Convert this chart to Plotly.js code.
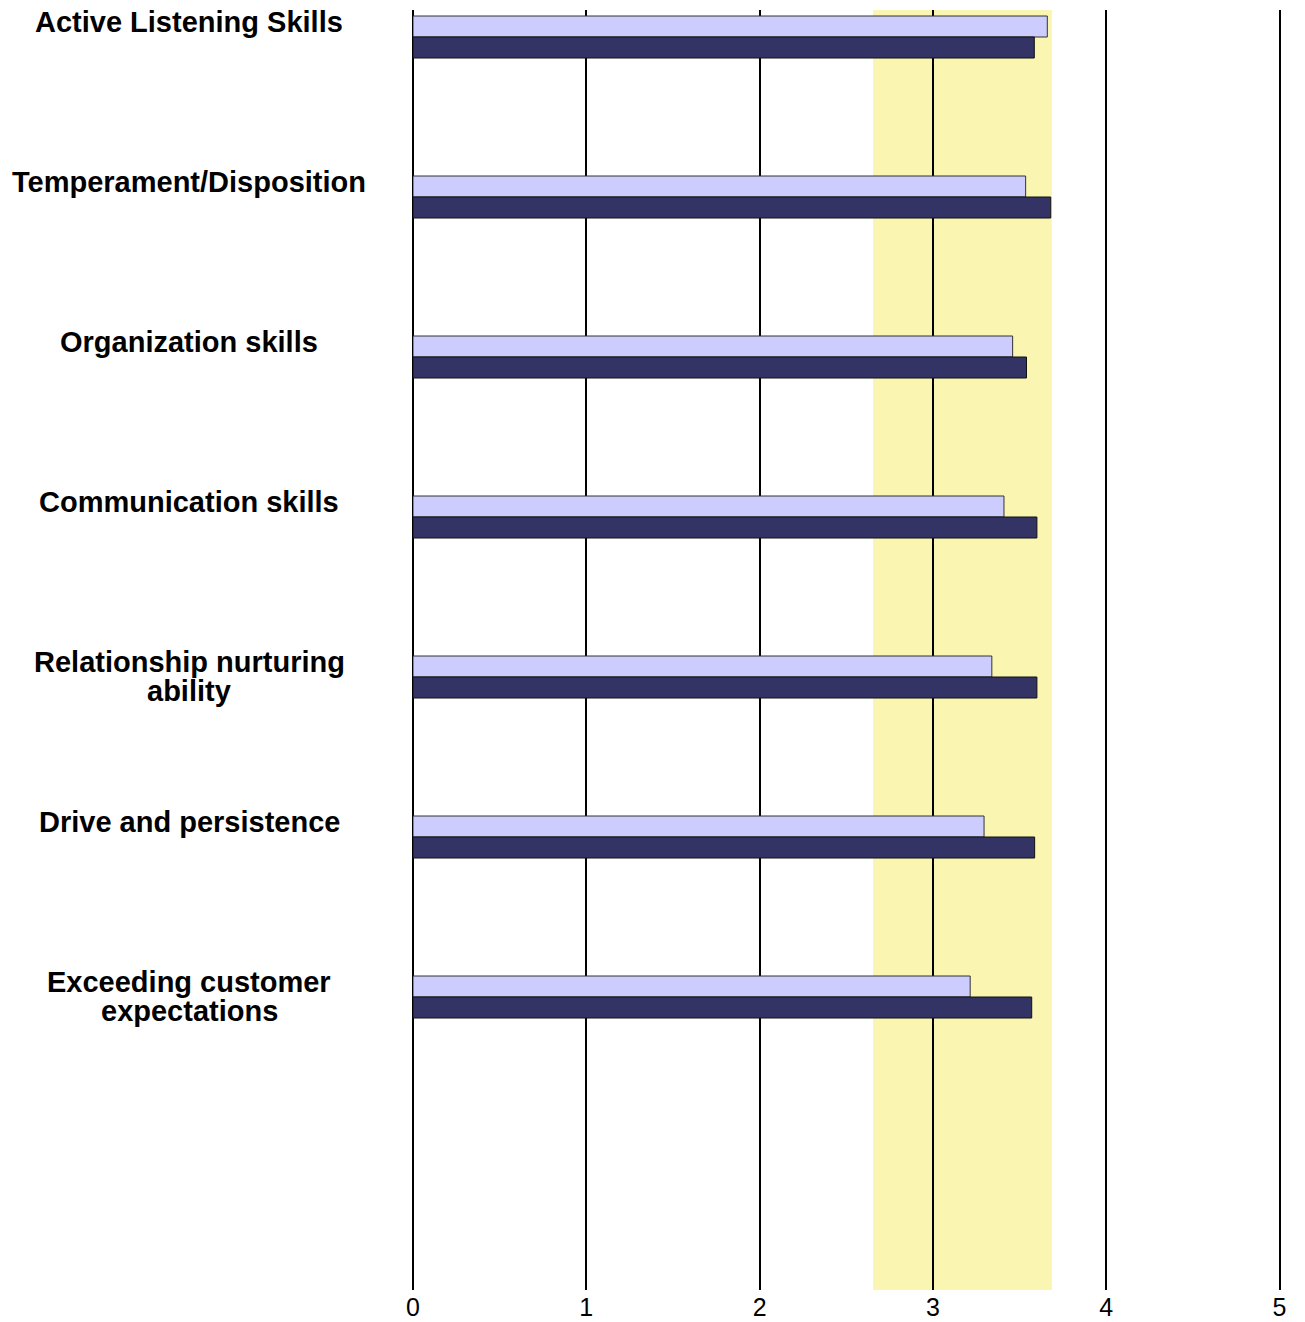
<!DOCTYPE html>
<html>
<head>
<meta charset="utf-8">
<script src="https://cdn.plot.ly/plotly-3.0.1.min.js"></script>
<style>html,body{margin:0;padding:0;background:#fff;}#chart{width:1305px;height:1322px;}</style>
</head>
<body>
<div id="chart"></div>
<script>
// Data
var categories = [
  "Active Listening Skills",
  "Temperament/Disposition",
  "Organization skills",
  "Communication skills",
  "Relationship nurturing\nability",
  "Drive and persistence",
  "Exceeding customer\nexpectations"
];
var seriesLight = [3.66, 3.535, 3.46, 3.41, 3.34, 3.295, 3.215];
var seriesDark  = [3.585, 3.68, 3.54, 3.60, 3.60, 3.587, 3.57];
var bandRange = [2.655, 3.686];
var xTicks = [0, 1, 2, 3, 4, 5];

var positions = categories.map(function (c, i) { return i; });
var barW = 21 / 160;

var traces = [
  {
    type: 'bar', orientation: 'h', x: seriesLight, y: positions,
    width: barW, offset: -barW,
    marker: {color: '#CCCCFF', line: {color: '#333333', width: 1}},
    hoverinfo: 'x', showlegend: false
  },
  {
    type: 'bar', orientation: 'h', x: seriesDark, y: positions,
    width: barW, offset: 0,
    marker: {color: '#333366', line: {color: '#111111', width: 1}},
    hoverinfo: 'x', showlegend: false
  }
];

var annotations = [];
var plotLeft = 413, plotWidth = 870;
var labelCenterPx = 189;
categories.forEach(function (label, i) {
  var lines = label.split('\n');
  lines.forEach(function (ln, j) {
    annotations.push({
      text: '<b>' + ln + '</b>',
      xref: 'paper', x: (labelCenterPx - plotLeft) / plotWidth, xanchor: 'center',
      yref: 'y', y: i + (21.5 - 37 + 29 * j) / 160, yanchor: 'middle',
      showarrow: false,
      font: {family: 'Liberation Sans, Arial, sans-serif', size: 29, color: '#000'}
    });
  });
});

var layout = {
  width: 1305, height: 1322,
  margin: {l: 413, r: 22, t: 10, b: 32, pad: 0},
  paper_bgcolor: '#ffffff', plot_bgcolor: 'rgba(0,0,0,0)',
  barmode: 'overlay',
  xaxis: {
    range: [0, 5.02], tickvals: xTicks, ticktext: xTicks.map(String),
    showgrid: true, gridcolor: '#000000', gridwidth: 2,
    zeroline: true, zerolinecolor: '#000000', zerolinewidth: 2,
    showline: false, ticks: '',
    tickfont: {family: 'Liberation Sans, Arial, sans-serif', size: 25, color: '#000'}
  },
  yaxis: {
    range: [7.83125, -0.16875],
    showgrid: false, zeroline: false, showline: false,
    showticklabels: false, ticks: ''
  },
  shapes: [{
    type: 'rect', xref: 'x', yref: 'paper',
    x0: bandRange[0], x1: bandRange[1], y0: 0, y1: 1,
    fillcolor: '#FAF5B0', line: {width: 0}, layer: 'below'
  }],
  annotations: annotations,
  font: {family: 'Liberation Sans, Arial, sans-serif', color: '#000'}
};

Plotly.newPlot('chart', traces, layout, {displayModeBar: false, staticPlot: true});
</script>
</body>
</html>
